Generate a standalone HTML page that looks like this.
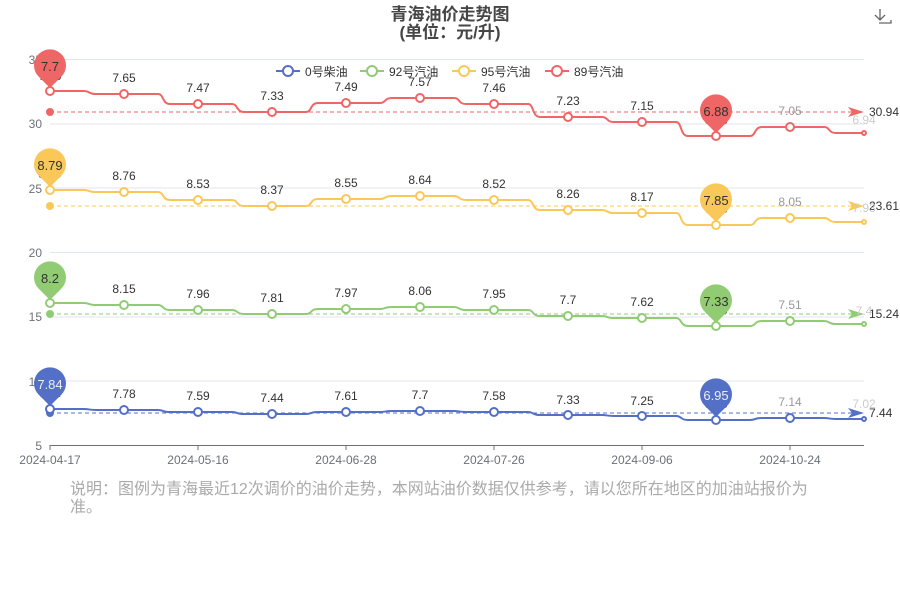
<!DOCTYPE html>
<html><head><meta charset="utf-8"><style>
body{margin:0;background:#fff}
svg{display:block;font-family:"Liberation Sans","Noto Sans CJK SC",sans-serif}
</style></head><body>
<svg width="900" height="600" viewBox="0 0 900 600">
<text x="450" y="20" text-anchor="middle" font-size="17" font-weight="bold" fill="#464646">青海油价走势图</text>
<text x="450" y="38" text-anchor="middle" font-size="17" font-weight="bold" fill="#464646">(单位：元/升)</text>
<g stroke="#666" fill="none" stroke-width="1.3"><path d="M880 9v11M875 15l5 5 5-5M879 22h0M879 23h12v-3"/></g>
<g stroke="#e0e6f1" stroke-width="1">
<line x1="50" y1="59.5" x2="864" y2="59.5"/><line x1="50" y1="124" x2="864" y2="124"/><line x1="50" y1="188" x2="864" y2="188"/><line x1="50" y1="252.5" x2="864" y2="252.5"/><line x1="50" y1="317" x2="864" y2="317"/><line x1="50" y1="381" x2="864" y2="381"/>
</g>
<line x1="50" y1="445.5" x2="864" y2="445.5" stroke="#6e7079"/>
<g stroke="#6e7079"><line x1="50" y1="445" x2="50" y2="450"/><line x1="198" y1="445" x2="198" y2="450"/><line x1="346" y1="445" x2="346" y2="450"/><line x1="494" y1="445" x2="494" y2="450"/><line x1="642" y1="445" x2="642" y2="450"/><line x1="790" y1="445" x2="790" y2="450"/></g>
<g font-size="12" fill="#6e7079" text-anchor="end">
<text x="42" y="64">35</text><text x="42" y="128">30</text><text x="42" y="193">25</text><text x="42" y="257">20</text><text x="42" y="321">15</text><text x="42" y="386">10</text><text x="42" y="450">5</text></g>
<g font-size="12" fill="#6e7079" text-anchor="middle">
<text x="50" y="464">2024-04-17</text><text x="198" y="464">2024-05-16</text><text x="346" y="464">2024-06-28</text><text x="494" y="464">2024-07-26</text><text x="642" y="464">2024-09-06</text><text x="790" y="464">2024-10-24</text></g>

<!-- legend -->
<g font-size="12" fill="#333">
<line x1="276" y1="71" x2="300" y2="71" stroke="#5470c6" stroke-width="2"/><circle cx="288" cy="71" r="5" fill="#fff" stroke="#5470c6" stroke-width="2"/><text x="305" y="76">0号柴油</text>
<line x1="360" y1="71" x2="384" y2="71" stroke="#91cc75" stroke-width="2"/><circle cx="372" cy="71" r="5" fill="#fff" stroke="#91cc75" stroke-width="2"/><text x="389" y="76">92号汽油</text>
<line x1="452" y1="71" x2="476" y2="71" stroke="#fac858" stroke-width="2"/><circle cx="464" cy="71" r="5" fill="#fff" stroke="#fac858" stroke-width="2"/><text x="481" y="76">95号汽油</text>
<line x1="545" y1="71" x2="569" y2="71" stroke="#ee6666" stroke-width="2"/><circle cx="557" cy="71" r="5" fill="#fff" stroke="#ee6666" stroke-width="2"/><text x="574" y="76">89号汽油</text>
</g>

<!-- mean lines -->
<g stroke-dasharray="4,3" stroke-width="1">
<line x1="50" y1="112" x2="852" y2="112" stroke="#ee6666"/><line x1="50" y1="206" x2="852" y2="206" stroke="#fac858"/><line x1="50" y1="314" x2="852" y2="314" stroke="#91cc75"/><line x1="50" y1="413" x2="852" y2="413" stroke="#5470c6"/></g>
<path d="M864 112l-16-5 4 5-4 5z" fill="#ee6666"/><path d="M864 206l-16-5 4 5-4 5z" fill="#fac858"/><path d="M864 314l-16-5 4 5-4 5z" fill="#91cc75"/><path d="M864 413l-16-5 4 5-4 5z" fill="#5470c6"/>
<circle cx="50" cy="112" r="4" fill="#ee6666"/><circle cx="50" cy="206" r="4" fill="#fac858"/><circle cx="50" cy="314" r="4" fill="#91cc75"/><circle cx="50" cy="413" r="4" fill="#5470c6"/>
<g font-size="12" fill="#333"><text x="869" y="116">30.94</text><text x="869" y="210">23.61</text><text x="869" y="318">15.24</text><text x="869" y="417">7.44</text></g>

<g fill="none" stroke-width="2">
<path stroke="#ee6666" d="M50,91 L84,91 C90,91 88,94 96,94 L124,94 L158,94 C164,94 162,104 170,104 L198,104 L232,104 C238,104 236,112 244,112 L272,112 L306,112 C312,112 310,103 318,103 L346,103 L380,103 C386,103 384,98 392,98 L420,98 L454,98 C460,98 458,104 466,104 L494,104 L528,104 C534,104 532,117 540,117 L568,117 L602,117 C608,117 606,122 614,122 L642,122 L676,122 C682,122 680,136 688,136 L716,136 L750,136 C756,136 754,127 762,127 L790,127 L824,127 C830,127 828,133 836,133 L864,133"/>
<path stroke="#fac858" d="M50,190 L84,190 C90,190 88,192 96,192 L124,192 L158,192 C164,192 162,200 170,200 L198,200 L232,200 C238,200 236,206 244,206 L272,206 L306,206 C312,206 310,199 318,199 L346,199 L380,199 C386,199 384,196 392,196 L420,196 L454,196 C460,196 458,200 466,200 L494,200 L528,200 C534,200 532,210 540,210 L568,210 L602,210 C608,210 606,213 614,213 L642,213 L676,213 C682,213 680,225 688,225 L716,225 L750,225 C756,225 754,218 762,218 L790,218 L824,218 C830,218 828,222 836,222 L864,222"/>
<path stroke="#91cc75" d="M50,303 L84,303 C90,303 88,305 96,305 L124,305 L158,305 C164,305 162,310 170,310 L198,310 L232,310 C238,310 236,314 244,314 L272,314 L306,314 C312,314 310,309 318,309 L346,309 L380,309 C386,309 384,307 392,307 L420,307 L454,307 C460,307 458,310 466,310 L494,310 L528,310 C534,310 532,316 540,316 L568,316 L602,316 C608,316 606,318 614,318 L642,318 L676,318 C682,318 680,326 688,326 L716,326 L750,326 C756,326 754,321 762,321 L790,321 L824,321 C830,321 828,324 836,324 L864,324"/>
<path stroke="#5470c6" d="M50,409 L84,409 C90,409 88,410 96,410 L124,410 L158,410 C164,410 162,412 170,412 L198,412 L232,412 C238,412 236,414 244,414 L272,414 L306,414 C312,414 310,412 318,412 L346,412 L380,412 C386,412 384,411 392,411 L420,411 L454,411 C460,411 458,412 466,412 L494,412 L528,412 C534,412 532,415 540,415 L568,415 L602,415 C608,415 606,416 614,416 L642,416 L676,416 C682,416 680,420 688,420 L716,420 L750,420 C756,420 754,418 762,418 L790,418 L824,418 C830,418 828,419 836,419 L864,419"/>
</g>
<g fill="#fff" stroke-width="2">
<g stroke="#ee6666"><circle cx="50" cy="91" r="4"/><circle cx="124" cy="94" r="4"/><circle cx="198" cy="104" r="4"/><circle cx="272" cy="112" r="4"/><circle cx="346" cy="103" r="4"/><circle cx="420" cy="98" r="4"/><circle cx="494" cy="104" r="4"/><circle cx="568" cy="117" r="4"/><circle cx="642" cy="122" r="4"/><circle cx="716" cy="136" r="4"/><circle cx="790" cy="127" r="4"/><circle cx="864" cy="133" r="2"/></g>
<g stroke="#fac858"><circle cx="50" cy="190" r="4"/><circle cx="124" cy="192" r="4"/><circle cx="198" cy="200" r="4"/><circle cx="272" cy="206" r="4"/><circle cx="346" cy="199" r="4"/><circle cx="420" cy="196" r="4"/><circle cx="494" cy="200" r="4"/><circle cx="568" cy="210" r="4"/><circle cx="642" cy="213" r="4"/><circle cx="716" cy="225" r="4"/><circle cx="790" cy="218" r="4"/><circle cx="864" cy="222" r="2"/></g>
<g stroke="#91cc75"><circle cx="50" cy="303" r="4"/><circle cx="124" cy="305" r="4"/><circle cx="198" cy="310" r="4"/><circle cx="272" cy="314" r="4"/><circle cx="346" cy="309" r="4"/><circle cx="420" cy="307" r="4"/><circle cx="494" cy="310" r="4"/><circle cx="568" cy="316" r="4"/><circle cx="642" cy="318" r="4"/><circle cx="716" cy="326" r="4"/><circle cx="790" cy="321" r="4"/><circle cx="864" cy="324" r="2"/></g>
<g stroke="#5470c6"><circle cx="50" cy="409" r="4"/><circle cx="124" cy="410" r="4"/><circle cx="198" cy="412" r="4"/><circle cx="272" cy="414" r="4"/><circle cx="346" cy="412" r="4"/><circle cx="420" cy="411" r="4"/><circle cx="494" cy="412" r="4"/><circle cx="568" cy="415" r="4"/><circle cx="642" cy="416" r="4"/><circle cx="716" cy="420" r="4"/><circle cx="790" cy="418" r="4"/><circle cx="864" cy="419" r="2"/></g>
</g>
<g font-size="12" fill="#333" text-anchor="middle">
<text x="50" y="80">7.70</text><text x="124" y="82">7.65</text><text x="198" y="92">7.47</text><text x="272" y="100">7.33</text><text x="346" y="91">7.49</text><text x="420" y="86">7.57</text><text x="494" y="92">7.46</text><text x="568" y="105">7.23</text><text x="642" y="110">7.15</text><text x="716" y="124">6.88</text><text x="790" y="115" fill="#999">7.05</text><text x="864" y="124" fill="#ccc">6.94</text>
<text x="50" y="178">8.79</text><text x="124" y="180">8.76</text><text x="198" y="188">8.53</text><text x="272" y="194">8.37</text><text x="346" y="187">8.55</text><text x="420" y="184">8.64</text><text x="494" y="188">8.52</text><text x="568" y="198">8.26</text><text x="642" y="201">8.17</text><text x="716" y="213">7.85</text><text x="790" y="206" fill="#999">8.05</text><text x="864" y="212" fill="#ccc">7.93</text>
<text x="50" y="291">8.2</text><text x="124" y="293">8.15</text><text x="198" y="298">7.96</text><text x="272" y="302">7.81</text><text x="346" y="297">7.97</text><text x="420" y="295">8.06</text><text x="494" y="298">7.95</text><text x="568" y="304">7.7</text><text x="642" y="306">7.62</text><text x="716" y="314">7.33</text><text x="790" y="309" fill="#999">7.51</text><text x="864" y="315" fill="#ccc">7.4</text>
<text x="50" y="397">7.84</text><text x="124" y="398">7.78</text><text x="198" y="400">7.59</text><text x="272" y="402">7.44</text><text x="346" y="400">7.61</text><text x="420" y="399">7.7</text><text x="494" y="400">7.58</text><text x="568" y="404">7.33</text><text x="642" y="405">7.25</text><text x="716" y="408">6.95</text><text x="790" y="406" fill="#999">7.14</text><text x="864" y="408" fill="#ccc">7.02</text>
</g>
<!-- pins -->
<g>
<path fill="#ee6666" d="M50,88 L39,77 A16,16 0 1 1 61,77 Z"/><path fill="#ee6666" d="M716,133 L705,122 A16,16 0 1 1 727,122 Z"/>
<path fill="#fac858" d="M50,187 L39,176 A16,16 0 1 1 61,176 Z"/><path fill="#fac858" d="M716,222 L705,211 A16,16 0 1 1 727,211 Z"/>
<path fill="#91cc75" d="M50,300 L39,289 A16,16 0 1 1 61,289 Z"/><path fill="#91cc75" d="M716,323 L705,312 A16,16 0 1 1 727,312 Z"/>
<path fill="#5470c6" d="M50,406 L39,395 A16,16 0 1 1 61,395 Z"/><path fill="#5470c6" d="M716,417 L705,406 A16,16 0 1 1 727,406 Z"/>
</g>
<g font-size="13" fill="#333" text-anchor="middle">
<text x="50" y="71">7.7</text><text x="716" y="116">6.88</text>
<text x="50" y="170">8.79</text><text x="716" y="205">7.85</text>
<text x="50" y="283">8.2</text><text x="716" y="306">7.33</text>
<text x="50" y="389" fill="#eee">7.84</text><text x="716" y="400" fill="#eee">6.95</text>
</g>
<text x="70" y="494" font-size="16" fill="#aaa">说明：图例为青海最近12次调价的油价走势，本网站油价数据仅供参考，请以您所在地区的加油站报价为</text>
<text x="70" y="512" font-size="16" fill="#aaa">准。</text>
</svg>
</body></html>
